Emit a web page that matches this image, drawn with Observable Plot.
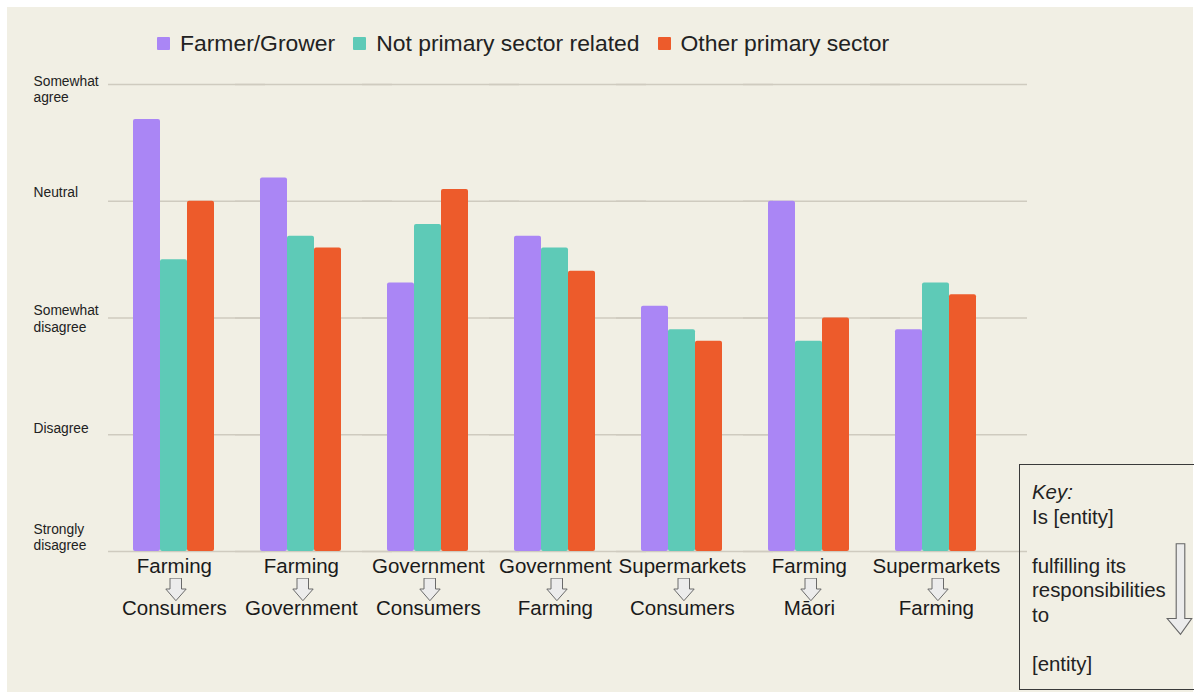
<!DOCTYPE html>
<html>
<head>
<meta charset="utf-8">
<script src="https://cdn.jsdelivr.net/npm/d3@7"></script>
<script src="https://cdn.jsdelivr.net/npm/@observablehq/plot@0.6"></script>
<style>
  html, body { margin: 0; padding: 0; }
  body { width: 1194px; height: 693px; background: #ffffff; position: relative; overflow: hidden;
         font-family: "Liberation Sans", Arial, Helvetica, sans-serif; color: #222; }
  #bg { position: absolute; left: 7px; top: 7px; width: 1186px; height: 685px; background: #f1efe4; }
  #legend { position: absolute; left: 157px; top: 27px; height: 32px; display: flex; align-items: center;
            font-size: 22.9px; color: #222; white-space: nowrap; }
  #legend .item { display: flex; align-items: center; margin-right: 18px; }
  #legend .sw { width: 13px; height: 13px; margin-right: 10px; border-radius: 1px; }
  #chart { position: absolute; left: 0; top: 70px; }
  #key { position: absolute; left: 1019px; top: 464px; width: 200px; height: 226px; box-sizing: border-box;
         border: 1.5px solid #3a3a3a; padding: 15px 0 0 12px; font-size: 20.4px; line-height: 24.6px; color: #222; }
  #key svg { position: absolute; left: 146px; top: 78px; }
</style>
</head>
<body>
<div id="bg"></div>
<div id="legend"></div>
<div id="chart"></div>
<div id="key"></div>
<script>
// ---- data ----
const sources = ["Farming", "Farming", "Government", "Government", "Supermarkets", "Farming", "Supermarkets"];
const targets = ["Consumers", "Government", "Consumers", "Farming", "Consumers", "Māori", "Farming"];
const seriesNames = ["Farmer/Grower", "Not primary sector related", "Other primary sector"];
const seriesColors = ["#aa86f5", "#5ecab7", "#ed5b2b"];
const farmerGrower = [4.7, 4.2, 3.3, 3.7, 3.1, 4.0, 2.9];
const notPrimary = [3.5, 3.7, 3.8, 3.6, 2.9, 2.8, 3.3];
const otherPrimary = [4.0, 3.6, 4.1, 3.4, 2.8, 3.0, 3.2];
const yTicks = [1, 2, 3, 4, 5];
const yTickLabels = ["Strongly\ndisagree", "Disagree", "Somewhat\ndisagree", "Neutral", "Somewhat\nagree"];
const keyLines = ["Is [entity]", "", "fulfilling its", "responsibilities", "to", "", "[entity]"];

// ---- build table ----
const groups = sources.map((s, i) => i);
const seriesValues = [farmerGrower, notPrimary, otherPrimary];
const rows = [];
groups.forEach(i => seriesNames.forEach((name, j) => rows.push({group: i, series: name, value: seriesValues[j][i]})));
const labelOf = new Map(yTicks.map((t, i) => [t, yTickLabels[i]]));

// ---- legend ----
const legend = document.getElementById("legend");
seriesNames.forEach((n, i) => {
  const item = document.createElement("div");
  item.className = "item";
  item.innerHTML = `<span class="sw" style="background:${seriesColors[i]}"></span><span>${n}</span>`;
  legend.appendChild(item);
});

// ---- key box ----
const key = document.getElementById("key");
key.innerHTML = `<div><i>Key:</i></div>` + keyLines.map(l => `<div>${l || "&nbsp;"}</div>`).join("") +
  `<svg width="27" height="94" viewBox="0 0 27 94"><path d="M10.2,0.7 H18.8 V75.5 H25.7 L14.5,91.3 L1.2,75.5 H10.2 Z" fill="#ececec" stroke="#666" stroke-width="1.1"/></svg>`;

// ---- arrow image for x labels ----
const arrowSvg = `<svg xmlns="http://www.w3.org/2000/svg" width="22" height="24" viewBox="0 0 22 24"><path d="M5,0.6 H16.5 V11.5 H21.2 L10.9,23.2 L0.8,11.5 H5 Z" fill="#ececec" stroke="#6a6a6a" stroke-width="1"/></svg>`;
const arrowURI = "data:image/svg+xml;charset=utf-8," + encodeURIComponent(arrowSvg);

const ySpecs = [
  {t: 5, dy: 4}, {t: 4, dy: -10}, {t: 3, dy: 0}, {t: 2, dy: -7}, {t: 1, dy: -15}
];

const chart = Plot.plot({
  width: 1194,
  height: 623,
  marginTop: 14,
  marginBottom: 142,
  marginLeft: 108,
  marginRight: 166,
  style: {background: "transparent", fontFamily: "Liberation Sans, Arial, sans-serif", color: "#222", overflow: "visible"},
  fx: {domain: groups, paddingInner: 0, paddingOuter: 0.1164, align: 0, axis: null},
  x: {domain: seriesNames, paddingInner: 0, paddingOuter: 0.8127, align: 0.5526, axis: null},
  y: {domain: [1, 5], axis: null},
  color: {domain: seriesNames, range: seriesColors},
  marks: [
    Plot.ruleY(yTicks, {y: d => d, stroke: "#cfcbbf", strokeWidth: 1.3, insetRight: -30}),
    Plot.barY(rows, {fx: "group", x: "series", y1: () => 1, y2: "value", fill: "series", rx: 2}),
    ...ySpecs.map(s => Plot.axisY({
      ticks: [s.t], tickSize: 0, tickPadding: 0, textAnchor: "start", dx: -75, dy: s.dy,
      tickFormat: d => labelOf.get(d), fontSize: 13.8, lineHeight: 1.2, fill: "#222", label: null
    })),
    Plot.text(groups, {fx: d => d, text: d => sources[d], frameAnchor: "bottom", lineAnchor: "middle", dy: 15, dx: 2.4, fontSize: 20.5, fill: "#1a1a1a"}),
    Plot.image(groups, {fx: d => d, src: () => arrowURI, width: 22, height: 24, frameAnchor: "bottom", dy: 38, dx: 4}),
    Plot.text(groups, {fx: d => d, text: d => targets[d], frameAnchor: "bottom", lineAnchor: "middle", dy: 57, dx: 2.4, fontSize: 20.5, fill: "#1a1a1a"})
  ]
});
document.getElementById("chart").appendChild(chart);
</script>
</body>
</html>
